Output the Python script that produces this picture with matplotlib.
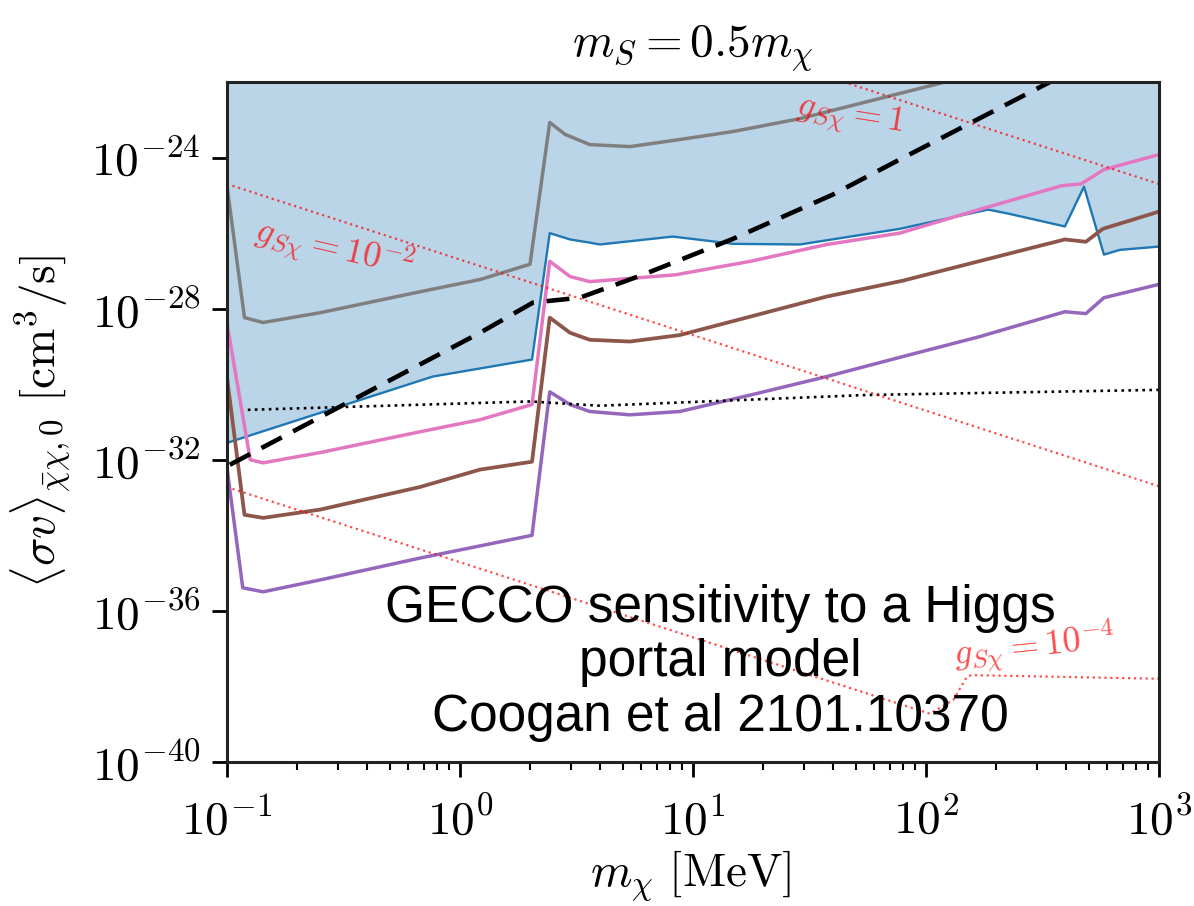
import matplotlib
matplotlib.use("Agg")
import matplotlib.pyplot as plt
from matplotlib.ticker import LogLocator, NullLocator, NullFormatter, FixedLocator

plt.rcParams['mathtext.fontset'] = 'cm'
plt.rcParams['font.family'] = 'serif'
plt.rcParams['font.serif'] = ['cmr10', 'DejaVu Serif']
plt.rcParams['axes.unicode_minus'] = False

# Dark-matter mass grid points [MeV] and annihilation cross sections [cm^3/s]
gray_x = [0.100, 0.119, 0.143, 0.251, 0.673, 1.22, 2.00, 2.43, 2.83, 3.61, 5.37, 8.79, 14.9, 28.8, 55.8, 121]
gray_y = [1.9e-25, 5.8e-29, 4.3e-29, 7.8e-29, 2.8e-28, 5.9e-28, 1.5e-27, 8.5e-24, 4.1e-24,
          2.2e-24, 1.95e-24, 3.0e-24, 4.9e-24, 1.07e-23, 3.0e-23, 1.0e-22]

blue_x = [0.100, 0.766, 2.04, 2.43, 2.97, 3.61, 3.99, 8.2, 14.9, 28.8, 77.3, 185, 225, 395, 477, 581, 680, 1000]
blue_y = [2.8e-32, 1.6e-30, 4.5e-30, 1.0e-26, 6.8e-27, 5.6e-27, 5.0e-27, 8.1e-27, 5.2e-27, 5.0e-27,
          1.3e-26, 4.2e-26, 3.3e-26, 1.5e-26, 1.7e-25, 2.7e-27, 3.6e-27, 4.4e-27]

pink_x = [0.100, 0.126, 0.143, 0.251, 0.673, 1.22, 2.04, 2.43, 2.97, 3.61, 8.45, 17.7, 37.6, 77.3, 169, 383, 463, 581, 1000]
pink_y = [4.3e-29, 1.0e-32, 8.3e-33, 1.55e-32, 5.5e-32, 1.15e-31, 2.9e-31, 1.8e-27, 7.1e-28, 5.2e-28,
          7.9e-28, 1.8e-27, 5.0e-27, 1.0e-26, 4.2e-26, 1.8e-25, 2.0e-25, 4.8e-25, 1.2e-24]

brown_x = [0.100, 0.119, 0.143, 0.251, 0.673, 1.22, 2.04, 2.43, 2.97, 3.61, 5.37, 8.79, 17.7, 37.6, 79.6, 169, 395, 486, 575, 1000]
brown_y = [1.6e-30, 3.5e-34, 2.9e-34, 4.8e-34, 1.9e-33, 5.5e-33, 8.9e-33, 5.8e-29, 2.3e-29, 1.5e-29,
           1.35e-29, 2.0e-29, 6.2e-29, 2.1e-28, 5.5e-28, 1.8e-27, 6.8e-27, 5.9e-27, 1.3e-26, 3.7e-26]

purple_x = [0.100, 0.117, 0.143, 0.251, 0.673, 2.04, 2.43, 2.97, 3.61, 5.37, 8.79, 17.7, 37.6, 79.6, 169, 395, 486, 581, 1000]
purple_y = [6.5e-33, 4.1e-36, 3.2e-36, 6.6e-36, 2.5e-35, 1.0e-34, 6.3e-31, 2.9e-31, 1.9e-31, 1.55e-31,
            1.9e-31, 5.2e-31, 1.6e-30, 5.4e-30, 1.8e-29, 8.3e-29, 7.4e-29, 1.95e-28, 4.4e-28]

thermal_x = [0.103, 1.22, 2.06, 3.27, 6.10, 14.9, 39.9, 77.3, 341]
thermal_y = [7.4e-33, 2.3e-29, 1.45e-28, 1.95e-28, 7.9e-28, 7.1e-27, 1.05e-25, 8.9e-25, 1.0e-22]

cmb_x = [0.123, 2.0, 3.99, 55.8, 1000]
cmb_y = [2.1e-31, 3.5e-31, 2.7e-31, 5.2e-31, 7.1e-31]

# Fixed-coupling contours
g1_x = [30, 1000]
g1_y = [2.2e-22, 2.0e-25]
g2_x = [0.1, 1000]
g2_y = [2.0e-25, 2.0e-33]
g4_x = [0.1, 104, 131, 150, 157, 1000]
g4_y = [1.9e-33, 1.9e-39, 4.4e-39, 1.8e-38, 2.0e-38, 1.6e-38]

coupling_labels = [r'$g_{S\chi} = 1$', r'$g_{S\chi} = 10^{-2}$', r'$g_{S\chi} = 10^{-4}$']
coupling_label_pos = [(47, 1.2e-23), (0.29, 3.6e-27), (294, 1.1e-37)]
coupling_label_rot = [-9, -13, 6]

x_ticks = [0.1, 1, 10, 100, 1000]
x_ticklabels = [r'$10^{-1}$', r'$10^{0}$', r'$10^{1}$', r'$10^{2}$', r'$10^{3}$']
y_ticks = [1e-40, 1e-36, 1e-32, 1e-28, 1e-24]
y_ticklabels = [r'$10^{-40}$', r'$10^{-36}$', r'$10^{-32}$', r'$10^{-28}$', r'$10^{-24}$']

ymax = 1e-22

fig = plt.figure(figsize=(11.94, 9.06), dpi=100)
ax = fig.add_axes([0.190, 0.1589, 0.7806, 0.7506])
ax.set_xscale('log')
ax.set_yscale('log')

ax.fill_between(blue_x, blue_y, ymax, color='tab:blue', alpha=0.3, lw=0)
ax.plot(blue_x, blue_y, color='tab:blue', lw=1.7)
ax.plot(gray_x, gray_y, color='tab:gray', lw=2.5)
ax.plot(pink_x, pink_y, color='tab:pink', lw=2.5)
ax.plot(brown_x, brown_y, color='tab:brown', lw=2.7)
ax.plot(purple_x, purple_y, color='tab:purple', lw=2.5)
ax.plot(thermal_x, thermal_y, color='k', ls=(0, (5, 2.8)), lw=3.3)
ax.plot(cmb_x, cmb_y, color='k', ls=':', lw=1.9)

for gx, gy in [(g1_x, g1_y), (g2_x, g2_y), (g4_x, g4_y)]:
    ax.plot(gx, gy, color='red', ls=':', lw=1.6, alpha=0.7)
for txt, (px, py), rot in zip(coupling_labels, coupling_label_pos, coupling_label_rot):
    ax.text(px, py, txt, color='red', alpha=0.7, fontsize=26, rotation=rot,
            ha='center', va='center')

ax.set_xlim(0.1, 1000)
ax.set_ylim(1e-40, ymax)
ax.xaxis.set_major_locator(FixedLocator(x_ticks))
ax.set_xticklabels(x_ticklabels)
ax.xaxis.set_minor_locator(LogLocator(base=10, subs=range(2, 10), numticks=20))
ax.xaxis.set_minor_formatter(NullFormatter())
ax.yaxis.set_major_locator(FixedLocator(y_ticks))
ax.set_yticklabels(y_ticklabels)
ax.yaxis.set_minor_locator(NullLocator())

ax.tick_params(which='major', direction='out', length=11, width=2, labelsize=34, pad=8)
ax.tick_params(axis='x', which='major', pad=14)
ax.tick_params(which='minor', direction='out', length=6, width=1.5)
for sp in ax.spines.values():
    sp.set_linewidth(2.2)
    sp.set_color('#222222')

ax.set_title(r'$m_S = 0.5 m_\chi$', fontsize=34, pad=18)
ax.set_xlabel(r'$m_\chi\ [\mathrm{MeV}]$', fontsize=34)
ax.set_ylabel(r'$\langle\sigma v\rangle_{\bar{\chi}\chi,0}\ [\mathrm{cm}^3/\mathrm{s}]$', fontsize=34)
ax.xaxis.set_label_coords(0.497, -0.128)
ax.yaxis.set_label_coords(-0.165, 0.5)

ax.text(0.529, 0.146, 'GECCO sensitivity to a Higgs\nportal model\nCoogan et al 2101.10370',
        transform=ax.transAxes, ha='center', va='center', fontsize=37,
        family='Liberation Sans', color='black', linespacing=1.15)

fig.savefig('out.png', dpi=100)
